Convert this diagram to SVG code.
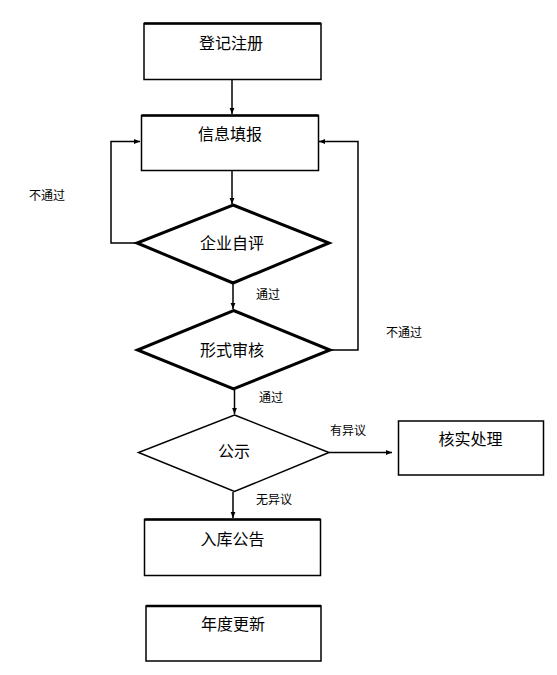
<svg xmlns="http://www.w3.org/2000/svg" width="557" height="675" viewBox="0 0 557 675">
<defs>
<style>
.box{fill:#fff;stroke:#000;stroke-width:1.5}
.dia{fill:#fff;stroke:#000;stroke-width:3;stroke-linejoin:miter}
.dia2{fill:#fff;stroke:#000;stroke-width:1.5}
.t{font-family:"Liberation Sans","Noto Sans CJK SC",sans-serif;font-size:16px;fill:#000;text-anchor:middle;dominant-baseline:central}
.lb{font-family:"Liberation Sans","Noto Sans CJK SC",sans-serif;font-size:12px;fill:#000;text-anchor:start;dominant-baseline:central}
.ln{fill:none;stroke:#000;stroke-width:1.5}
</style>
<marker id="ah" viewBox="0 0 10 10" refX="10" refY="5" markerWidth="6" markerHeight="6" orient="auto" markerUnits="userSpaceOnUse">
<path d="M0,1 L10,5 L0,9 Z" fill="#000"/>
</marker>
</defs>
<g id="connectors">
<line class="ln" x1="232" y1="80" x2="232" y2="114" marker-end="url(#ah)"/>
<line class="ln" x1="232" y1="171" x2="232" y2="204" marker-end="url(#ah)"/>
<polyline class="ln" points="137,243 111,243 111,141.5 140,141.5" marker-end="url(#ah)"/>
<line class="ln" x1="233" y1="283" x2="233" y2="309" marker-end="url(#ah)"/>
<polyline class="ln" points="330,350 358,350 358,141.5 319,141.5" marker-end="url(#ah)"/>
<line class="ln" x1="234.5" y1="389" x2="234.5" y2="414" marker-end="url(#ah)"/>
<line class="ln" x1="329" y1="452.5" x2="392" y2="452.5" stroke-width="2" marker-end="url(#ah)"/>
<line class="ln" x1="233" y1="492" x2="233" y2="518" marker-end="url(#ah)"/>
<text class="lb" x="29" y="196">不通过</text>
<text class="lb" x="386" y="333">不通过</text>
<text class="lb" x="256" y="295">通过</text>
<text class="lb" x="259" y="398">通过</text>
<text class="lb" x="330" y="431">有异议</text>
<text class="lb" x="256" y="500">无异议</text>
</g>
<g id="n1"><rect class="box" x="144" y="23.5" width="177" height="56"/><line x1="144" y1="23.5" x2="321" y2="23.5" stroke="#000" stroke-width="2.5"/><text class="t" x="231" y="43.5">登记注册</text></g>
<g id="n2"><rect class="box" x="141.5" y="115.5" width="177" height="55"/><line x1="141.5" y1="115.5" x2="318.5" y2="115.5" stroke="#000" stroke-width="2.5"/><text class="t" x="230" y="134">信息填报</text></g>
<g id="n3"><polygon class="dia" points="233,205 329,243 233,283 137,243"/><text class="t" x="232" y="243">企业自评</text></g>
<g id="n4"><polygon class="dia" points="233.5,310.5 330,350 233.5,389 137.5,350"/><text class="t" x="232" y="350">形式审核</text></g>
<g id="n5"><polygon class="dia2" points="234.5,415 329,452.5 234.5,491.5 138.5,452.5"/><text class="t" x="234" y="451.5">公示</text></g>
<g id="n6"><rect class="box" x="398.5" y="421" width="145" height="54"/><text class="t" x="470.5" y="439">核实处理</text></g>
<g id="n7"><rect class="box" x="144.5" y="519.5" width="176" height="56"/><line x1="144.5" y1="519.5" x2="320.5" y2="519.5" stroke="#000" stroke-width="2.5"/><text class="t" x="232.5" y="539">入库公告</text></g>
<g id="n8"><rect class="box" x="146" y="606" width="175" height="55"/><line x1="146" y1="606" x2="321" y2="606" stroke="#000" stroke-width="2.5"/><text class="t" x="233" y="624">年度更新</text></g>
</svg>
